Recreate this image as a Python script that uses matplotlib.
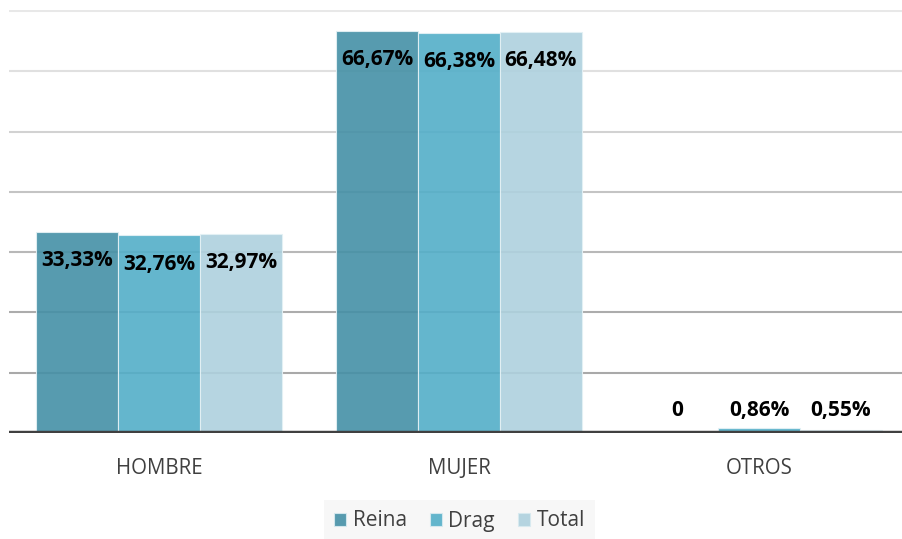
import numpy as np
import matplotlib
matplotlib.use("Agg")
import matplotlib.pyplot as plt
from matplotlib.patches import Patch

plt.rcParams['font.family'] = ['Open Sans', 'DejaVu Sans']

# data
categorias = ["HOMBRE", "MUJER", "OTROS"]
series = ["Reina", "Drag", "Total"]
reina = [33.33, 66.67, 0.0]
drag = [32.76, 66.38, 0.86]
total = [32.97, 66.48, 0.55]
etiquetas = [["33,33%", "66,67%", "0"],
             ["32,76%", "66,38%", "0,86%"],
             ["32,97%", "66,48%", "0,55%"]]
valores = [reina, drag, total]

colores = ["#4590a6", "#53aec8", "#aed1de"]
grid_colores = ["#a9a9a9", "#acacac", "#b8b8b8", "#c4c4c4", "#d2d2d2", "#e0e0e0", "#e8e8e8"]

fig = plt.figure(figsize=(9.03, 5.39), dpi=100)
ax = fig.add_axes([9/903, 1-433/539, 894/903, 423/539])

x = np.arange(len(categorias))
w = 0.273

# gridlines (lighter towards the top)
for i, g in enumerate(range(10, 80, 10)):
    ax.axhline(g, color=grid_colores[i], lw=1.5, zorder=0)

for k, (vals, col) in enumerate(zip(valores, colores)):
    xs = x + (k-1)*w
    ax.bar(xs, vals, w, color=col, alpha=0.9, edgecolor="#e4f1f5", linewidth=0.8, zorder=2, label=series[k])
    for xi, v, lab in zip(xs, vals, etiquetas[k]):
        ax.text(xi, max(v-4.75, 3.7), lab, ha='center', va='center', fontsize=15,
                fontweight='bold', color='black', zorder=4)

ax.axhline(0, color="#404040", lw=3.2, zorder=3)

ax.set_xlim(-0.5, 2.48)
ax.set_ylim(0, 70.15)
ax.set_yticks([])
ax.set_xticks(x)
ax.set_xticklabels(categorias, fontsize=14.8, color="#404040")
ax.tick_params(axis='x', length=0, pad=18)
for s in ax.spines.values():
    s.set_visible(False)

handles = [Patch(facecolor=c, alpha=0.9, edgecolor="#d8eaf0", linewidth=0.8) for c in colores]
leg = fig.legend(handles, series, loc='center', bbox_to_anchor=(459.5/903, 1-521/539),
                 ncol=3, fontsize=15, frameon=True, fancybox=False, facecolor="#f7f7f7",
                 edgecolor="none", framealpha=1, handlelength=0.6, handleheight=0.6,
                 handletextpad=0.3, columnspacing=1.1, borderpad=0.5)
for t in leg.get_texts():
    t.set_color("#404040")

fig.savefig("out.png", dpi=100)
